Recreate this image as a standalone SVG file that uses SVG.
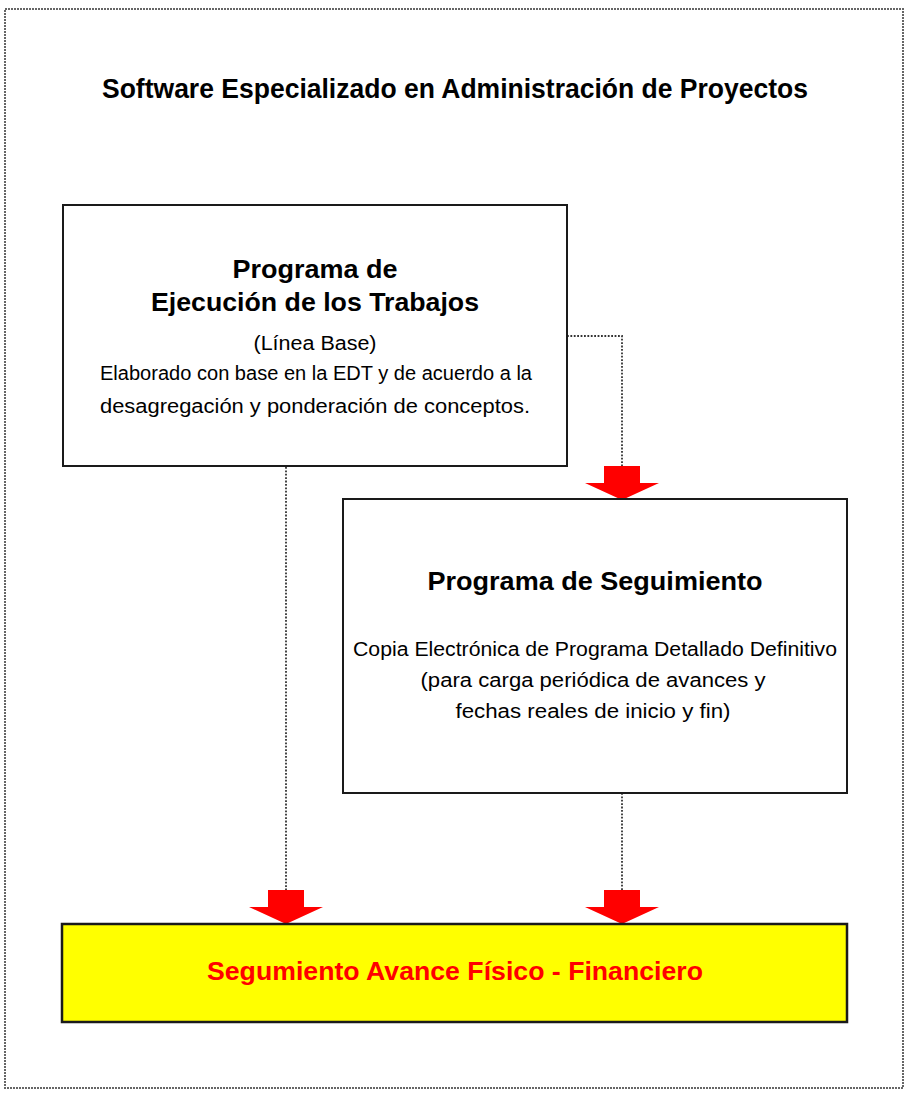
<svg xmlns="http://www.w3.org/2000/svg" xmlns:xlink="http://www.w3.org/1999/xlink" width="910" height="1096" viewBox="0 0 910 1096">
<style>
.box{fill:#ffffff;stroke:#1a1a1a;stroke-width:2}
.yel{fill:#ffff00;stroke:#1a1a1a;stroke-width:2.5}
.frame{fill:none;stroke:#666;stroke-width:2;stroke-dasharray:2 1}
.conn{fill:none;stroke:#333;stroke-width:1.8;stroke-dasharray:1.8 1.6}
.arr{fill:#ff0000}
.t{font-family:"Liberation Sans",Arial,sans-serif;text-anchor:middle;fill:#000}
.b{font-weight:bold}
.h1{font-size:27px}
.h2{font-size:26px}
.r{font-size:20px}
.red{fill:#ff0000}
</style>
<defs>
<polygon id="ar" class="arr" points="-18,-34 18,-34 18,-17 37,-17 0,0 -37,-17 -18,-17"/>
</defs>
<rect x="0" y="0" width="910" height="1096" fill="#fff"/>
<rect id="frame" class="frame" x="5" y="9" width="898" height="1079"/>
<text id="title" class="t b h1" x="455" y="98" textLength="706" lengthAdjust="spacingAndGlyphs">Software Especializado en Administración de Proyectos</text>
<g id="connectors">
<path class="conn" d="M567 336 H622 V466"/>
<path class="conn" d="M286 467 V892"/>
<path class="conn" d="M622 793 V892"/>
<use xlink:href="#ar" href="#ar" transform="translate(622,500)"/>
<use xlink:href="#ar" href="#ar" transform="translate(286,924)"/>
<use xlink:href="#ar" href="#ar" transform="translate(622,924)"/>
</g>
<g id="node-ejecucion">
<rect class="box" x="63" y="205" width="504" height="261"/>
<text class="t b h2" x="315" y="278" textLength="165" lengthAdjust="spacingAndGlyphs">Programa de</text>
<text class="t b h2" x="315" y="311" textLength="328" lengthAdjust="spacingAndGlyphs">Ejecución de los Trabajos</text>
<text class="t r" x="315" y="350" textLength="123" lengthAdjust="spacingAndGlyphs">(Línea Base)</text>
<text class="t r" x="316" y="380" textLength="432" lengthAdjust="spacingAndGlyphs">Elaborado con base en la EDT y de acuerdo a la</text>
<text class="t r" x="315" y="413" textLength="430" lengthAdjust="spacingAndGlyphs">desagregación y ponderación de conceptos.</text>
</g>
<g id="node-seguimiento">
<rect class="box" x="343" y="499" width="504" height="294"/>
<text class="t b h2" x="595" y="590" textLength="335" lengthAdjust="spacingAndGlyphs">Programa de Seguimiento</text>
<text class="t r" x="595" y="656" textLength="484" lengthAdjust="spacingAndGlyphs">Copia Electrónica de Programa Detallado Definitivo</text>
<text class="t r" x="593" y="687" textLength="345" lengthAdjust="spacingAndGlyphs">(para carga periódica de avances y</text>
<text class="t r" x="593" y="718" textLength="275" lengthAdjust="spacingAndGlyphs">fechas reales de inicio y fin)</text>
</g>
<g id="node-avance">
<rect class="yel" x="62" y="924" width="785" height="98"/>
<text class="t b h2 red" x="455" y="980" textLength="496" lengthAdjust="spacingAndGlyphs">Segumiento Avance Físico - Financiero</text>
</g>
</svg>
